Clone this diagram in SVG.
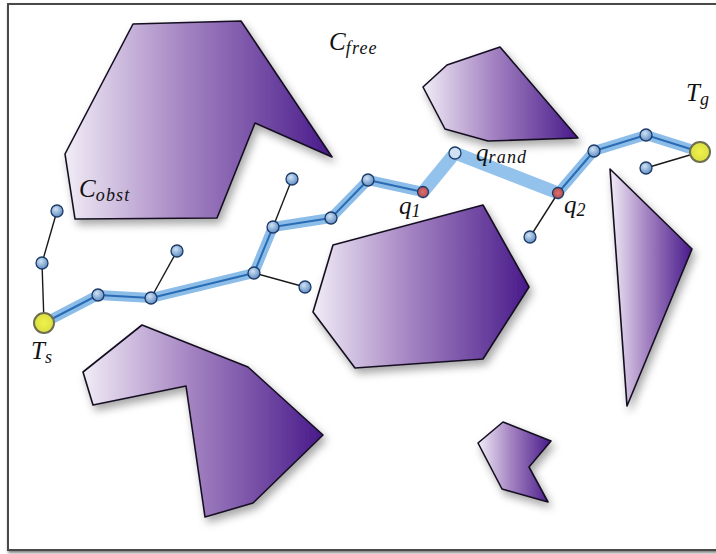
<svg xmlns="http://www.w3.org/2000/svg" width="716" height="554" viewBox="0 0 716 554">
<defs>
<linearGradient id="obsH" x1="0" y1="0" x2="1" y2="0">
<stop offset="0" stop-color="#f1ecf6"/>
<stop offset="0.45" stop-color="#a483c2"/>
<stop offset="1" stop-color="#481a8a"/>
</linearGradient>
<radialGradient id="nodeG" cx="0.4" cy="0.35" r="0.7">
<stop offset="0" stop-color="#d0e2f3"/>
<stop offset="1" stop-color="#5888c2"/>
</radialGradient>
<radialGradient id="qG" cx="0.5" cy="0.5" r="0.6">
<stop offset="0" stop-color="#e07070"/>
<stop offset="1" stop-color="#a84848"/>
</radialGradient>
<radialGradient id="tG" cx="0.5" cy="0.5" r="0.6">
<stop offset="0" stop-color="#f0f24a"/>
<stop offset="1" stop-color="#d6dc40"/>
</radialGradient>
<filter id="sh" x="-20%" y="-20%" width="150%" height="150%">
<feDropShadow dx="3" dy="5" stdDeviation="4" flood-color="#000" flood-opacity="0.35"/>
</filter>
<filter id="fsh" x="-5%" y="-5%" width="110%" height="110%">
<feDropShadow dx="1" dy="2" stdDeviation="1.5" flood-color="#000" flood-opacity="0.5"/>
</filter>
</defs>
<style>
.obs{fill:url(#obsH);stroke:#141020;stroke-width:1.6;stroke-linejoin:round;filter:url(#sh)}
.band{fill:none;stroke:#8cbde9;stroke-width:10;stroke-linejoin:round;stroke-linecap:round}
.bandw{fill:none;stroke:#93c2ec;stroke-width:13;stroke-linejoin:round;stroke-linecap:round}
.core{fill:none;stroke:#2a6cb4;stroke-width:2;stroke-linejoin:round}
.br{stroke:#1a1a1a;stroke-width:1.4}
.n{fill:url(#nodeG);stroke:#1c3a66;stroke-width:1.3}
.q{fill:url(#qG);stroke:#1c3a66;stroke-width:1.3}
.qr{fill:#cfe1f3;stroke:#1c3a66;stroke-width:1.3}
.t{fill:url(#tG);stroke:#6e6e50;stroke-width:2}
.lb{font-family:"Liberation Serif","DejaVu Serif",serif;font-style:italic;fill:#111}
.m{font-size:25px}
.s{font-size:18px;letter-spacing:1.2px}
</style>
<rect x="0" y="0" width="716" height="554" fill="#ffffff"/>
<rect x="8" y="4" width="716" height="546" fill="#ffffff" stroke="#4a4a4a" stroke-width="2" filter="url(#fsh)"/>
<g id="obstacles">
<g id="obs1"><polygon class="obs" points="133,24 241,21 332,157 255,123 217,218 75,219 65,154"/></g>
<g id="obs2"><polygon class="obs" points="423,87 447,65 500,47 578,138 488,141 445,129"/></g>
<g id="obs3"><polygon class="obs" points="333,245 483,205 529,287 483,359 355,368 313,312"/></g>
<g id="obs4"><polygon class="obs" points="610,169 692,249 627,406"/></g>
<g id="obs5"><polygon class="obs" points="83,372 142,325 248,367 323,435 253,503 205,517 186,386 93,405"/></g>
<g id="obs6"><polygon class="obs" points="478,443 503,422 551,441 529,467 548,502 502,489"/></g>
</g>
<g id="connectors">
<polyline class="band" points="44,323 98,295 151,298 254,273 273,227 331,218 368,180 423,192"/>
<polyline class="bandw" points="423,192 455,153 558,193"/>
<polyline class="band" points="558,193 594,151 646,135 700,152"/>
<polyline class="core" points="44,323 98,295 151,298 254,273 273,227 331,218 368,180 423,192"/>
<polyline class="core" points="558,193 594,151 646,135 700,152"/>
<line class="br" x1="44" y1="323" x2="42" y2="263"/>
<line class="br" x1="42" y1="263" x2="57" y2="211"/>
<line class="br" x1="151" y1="298" x2="177" y2="251"/>
<line class="br" x1="254" y1="273" x2="305" y2="287"/>
<line class="br" x1="273" y1="227" x2="292" y2="179"/>
<line class="br" x1="558" y1="193" x2="530" y2="237"/>
<line class="br" x1="700" y1="152" x2="646" y2="168"/>
</g>
<g id="nodes">
<g id="n1"><circle class="n" cx="98" cy="295" r="6"/></g>
<g id="n2"><circle class="n" cx="151" cy="298" r="6"/></g>
<g id="n3"><circle class="n" cx="254" cy="273" r="6"/></g>
<g id="n4"><circle class="n" cx="273" cy="227" r="6"/></g>
<g id="n5"><circle class="n" cx="331" cy="218" r="6"/></g>
<g id="n6"><circle class="n" cx="368" cy="180" r="6"/></g>
<g id="q1"><circle class="q" cx="423" cy="192" r="5.5"/></g>
<g id="qrand"><circle class="qr" cx="455" cy="153" r="6"/></g>
<g id="q2"><circle class="q" cx="558" cy="193" r="5.5"/></g>
<g id="n7"><circle class="n" cx="594" cy="151" r="6"/></g>
<g id="n8"><circle class="n" cx="646" cy="135" r="6"/></g>
<g id="b1"><circle class="n" cx="42" cy="263" r="6"/></g>
<g id="b2"><circle class="n" cx="57" cy="211" r="6"/></g>
<g id="b3"><circle class="n" cx="177" cy="251" r="6"/></g>
<g id="b4"><circle class="n" cx="305" cy="287" r="6"/></g>
<g id="b5"><circle class="n" cx="292" cy="179" r="6"/></g>
<g id="b6"><circle class="n" cx="530" cy="237" r="6"/></g>
<g id="b7"><circle class="n" cx="646" cy="168" r="6"/></g>
<g id="Ts"><circle class="t" cx="44" cy="323" r="10"/></g>
<g id="Tg"><circle class="t" cx="700" cy="152" r="10"/></g>
</g>
<g id="labels">
<text class="lb m" x="329" y="50">C<tspan class="s" dy="4">free</tspan></text>
<text class="lb m" x="79" y="197">C<tspan class="s" dy="4">obst</tspan></text>
<text class="lb m" x="476" y="161">q<tspan class="s" dy="2">rand</tspan></text>
<text class="lb m" x="399" y="214">q<tspan class="s" dy="3">1</tspan></text>
<text class="lb m" x="564" y="213">q<tspan class="s" dy="3">2</tspan></text>
<text class="lb m" x="31" y="359">T<tspan class="s" dy="4">s</tspan></text>
<text class="lb m" x="686" y="101">T<tspan class="s" dy="4">g</tspan></text>
</g>
</svg>
